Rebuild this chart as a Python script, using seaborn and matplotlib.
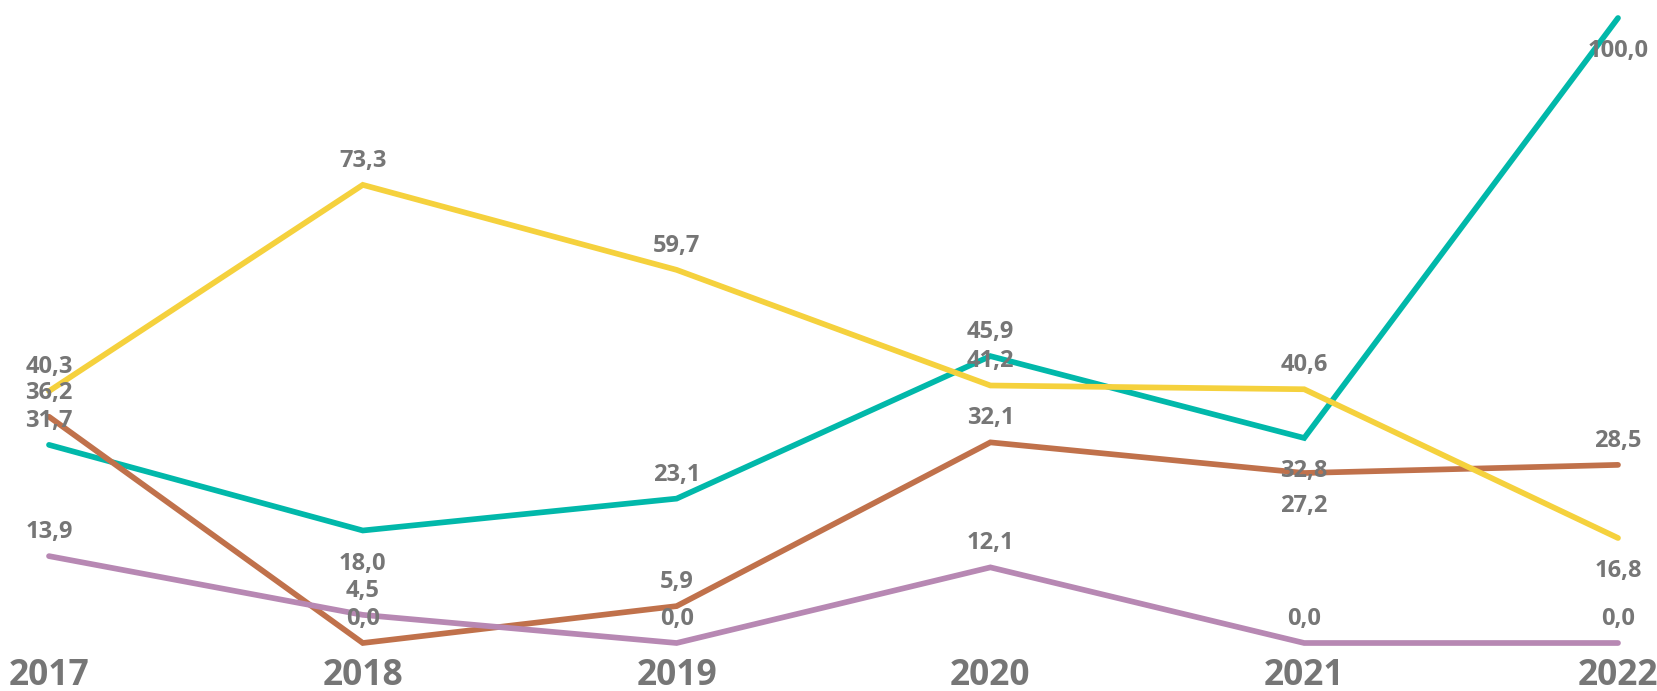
import matplotlib
matplotlib.use("Agg")
import matplotlib.pyplot as plt
import seaborn as sns
import pandas as pd

# dados
anos = [2017, 2018, 2019, 2020, 2021, 2022]
verde = [31.7, 18.0, 23.1, 45.9, 32.8, 100.0]
marrom = [36.2, 0.0, 5.9, 32.1, 27.2, 28.5]
amarelo = [40.3, 73.3, 59.7, 41.2, 40.6, 16.8]
roxo = [13.9, 4.5, 0.0, 12.1, 0.0, 0.0]

cores = {"verde": "#01B8AA", "marrom": "#C0714B", "amarelo": "#F5D13D", "roxo": "#B788B3"}
series = {"verde": verde, "marrom": marrom, "amarelo": amarelo, "roxo": roxo}

# rótulos que ficam abaixo do ponto (para não sobrepor)
abaixo = {("verde", 2018), ("verde", 2021), ("marrom", 2021), ("verde", 2022), ("amarelo", 2022)}

sns.set_style("white")
plt.rcParams["font.family"] = ["Open Sans", "DejaVu Sans"]

fig = plt.figure(figsize=(16.57, 6.91), dpi=100)
ax = fig.add_axes([0, 40 / 691, 1, 651 / 691])

for nome, valores in series.items():
    df = pd.DataFrame({"ano": anos, "valor": valores})
    sns.lineplot(data=df, x="ano", y="valor", ax=ax, color=cores[nome], linewidth=4.1,
                 solid_capstyle="round", solid_joinstyle="miter")

for nome, valores in series.items():
    for ano, v in zip(anos, valores):
        dy = -23.8 if (nome, ano) in abaixo else 17.3
        ax.annotate(f"{v:.1f}".replace(".", ","), (ano, v), xytext=(0, dy), textcoords="offset points",
                    ha="center", va="center", fontsize=17, fontweight="bold", color="#767676")

px = 313.8
ax.set_xlim(2017 - 49 / px, 2022 + 39 / px)
ax.set_ylim(-8 / 6.25, 100 + 18 / 6.25)
ax.set_xticks(anos)
ax.set_xticklabels([str(a) for a in anos], fontsize=25.5, fontweight="bold", color="#767676")
ax.tick_params(axis="x", length=0, pad=5)
ax.set_yticks([])
ax.set_xlabel("")
ax.set_ylabel("")
for s in ax.spines.values():
    s.set_visible(False)

fig.savefig("out.png", dpi=100)
